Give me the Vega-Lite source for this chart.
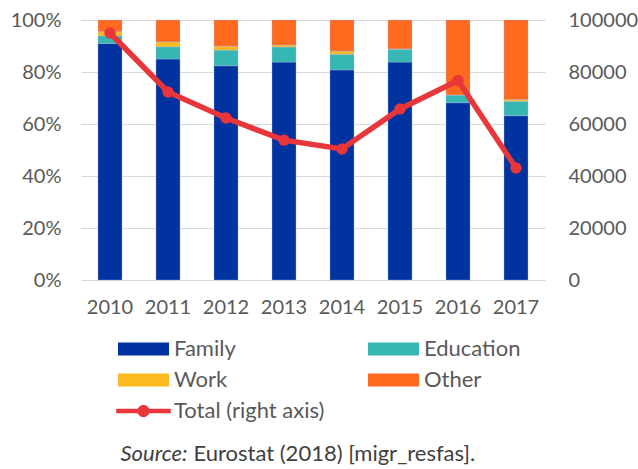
{
  "$schema": "https://vega.github.io/schema/vega-lite/v6.json",
  "autosize": "none",
  "width": 464,
  "height": 260,
  "padding": {"left": 81, "top": 20, "right": 93, "bottom": 189},
  "background": "#ffffff",
  "config": {
    "font": "Lato",
    "view": {"stroke": null},
    "axis": {"labelFont": "Lato", "labelFontSize": 20, "labelColor": "#595959", "domain": false, "ticks": false, "grid": false},
    "legend": {
      "title": null, "orient": "none", "legendX": 49.5, "legendY": 316, "columns": 2, "direction": "horizontal",
      "columnPadding": 43, "rowPadding": 7, "padding": 0,
      "labelFont": "Lato", "labelFontSize": 22, "labelColor": "#595959", "labelOffset": 17.5, "labelLimit": 300,
      "symbolType": "M-1.962,-0.5H1.962V0.5H-1.962Z", "symbolSize": 676, "symbolStrokeWidth": 0
    }
  },
  "datasets": {
    "shares": [
      {"year": "2010", "type": "Family", "value": 91.0},
      {"year": "2010", "type": "Education", "value": 2.9},
      {"year": "2010", "type": "Work", "value": 1.6},
      {"year": "2010", "type": "Other", "value": 4.5},
      {"year": "2011", "type": "Family", "value": 85.0},
      {"year": "2011", "type": "Education", "value": 4.7},
      {"year": "2011", "type": "Work", "value": 1.9},
      {"year": "2011", "type": "Other", "value": 8.4},
      {"year": "2012", "type": "Family", "value": 82.4},
      {"year": "2012", "type": "Education", "value": 6.0},
      {"year": "2012", "type": "Work", "value": 1.5},
      {"year": "2012", "type": "Other", "value": 10.1},
      {"year": "2013", "type": "Family", "value": 83.8},
      {"year": "2013", "type": "Education", "value": 5.8},
      {"year": "2013", "type": "Work", "value": 0.8},
      {"year": "2013", "type": "Other", "value": 9.6},
      {"year": "2014", "type": "Family", "value": 80.8},
      {"year": "2014", "type": "Education", "value": 6.0},
      {"year": "2014", "type": "Work", "value": 1.2},
      {"year": "2014", "type": "Other", "value": 12.0},
      {"year": "2015", "type": "Family", "value": 83.8},
      {"year": "2015", "type": "Education", "value": 4.9},
      {"year": "2015", "type": "Work", "value": 0.2},
      {"year": "2015", "type": "Other", "value": 11.1},
      {"year": "2016", "type": "Family", "value": 68.2},
      {"year": "2016", "type": "Education", "value": 2.9},
      {"year": "2016", "type": "Work", "value": 0.1},
      {"year": "2016", "type": "Other", "value": 28.8},
      {"year": "2017", "type": "Family", "value": 63.2},
      {"year": "2017", "type": "Education", "value": 5.5},
      {"year": "2017", "type": "Work", "value": 0.7},
      {"year": "2017", "type": "Other", "value": 30.6}
    ],
    "totals": [
      {"year": "2010", "type": "Total (right axis)", "total": 95000},
      {"year": "2011", "type": "Total (right axis)", "total": 72300},
      {"year": "2012", "type": "Total (right axis)", "total": 62300},
      {"year": "2013", "type": "Total (right axis)", "total": 53800},
      {"year": "2014", "type": "Total (right axis)", "total": 50400},
      {"year": "2015", "type": "Total (right axis)", "total": 65800},
      {"year": "2016", "type": "Total (right axis)", "total": 76700},
      {"year": "2017", "type": "Total (right axis)", "total": 43100}
    ]
  },
  "encoding": {
    "x": {"field": "year", "type": "ordinal", "scale": {"paddingInner": 0, "paddingOuter": 0},
      "axis": {"title": null, "labelAngle": 0, "labelPadding": 17}},
    "color": {
      "field": "type", "type": "nominal",
      "sort": ["Family", "Education", "Work", "Other", "Total (right axis)"],
      "scale": {"domain": ["Family", "Education", "Work", "Other", "Total (right axis)"],
        "range": ["#0033A0", "#36B7B4", "#FBBA1F", "#FF6A1F", "#E8363A"]},
      "legend": {
        "encode": {"symbols": {"update": {
          "shape": {"signal": "datum.value === 'Total (right axis)' ? 'M-2.1,-0.18H2.1V0.18H-2.1Z M0.47,0A0.47,0.47 0 1,1 -0.47,0A0.47,0.47 0 1,1 0.47,0Z' : 'M-1.962,-0.5H1.962V0.5H-1.962Z'"},
          "fill": {"scale": "color", "field": "value"},
          "strokeWidth": {"value": 0},
          "opacity": {"value": 1},
          "fillOpacity": {"value": 1}
        }}}
      }
    }
  },
  "layer": [
    {
      "data": {"name": "shares"},
      "transform": [{"calculate": "indexof(['Family', 'Education', 'Work', 'Other'], datum.type)", "as": "stackRank"}],
      "mark": {"type": "bar", "width": 24, "stroke": "#9fb3e0", "strokeWidth": 0.6, "strokeOpacity": 0.6},
      "encoding": {
        "y": {"field": "value", "type": "quantitative", "stack": "normalize",
          "scale": {"domain": [0, 1]},
          "axis": {"format": ".0%", "values": [0, 0.2, 0.4, 0.6, 0.8, 1], "grid": true, "gridColor": "#d9d9d9", "gridWidth": 1.2, "labelPadding": 20,
            "title": "Source:", "titleAngle": 0, "titleX": 39, "titleY": 433, "titleAlign": "left", "titleBaseline": "middle",
            "titleFont": "Lato", "titleFontSize": 22, "titleFontWeight": "normal", "titleFontStyle": "italic", "titleColor": "#404040"}},
        "order": {"field": "stackRank", "type": "quantitative", "sort": "ascending"}
      }
    },
    {
      "data": {"name": "totals"},
      "mark": {"type": "line", "strokeWidth": 5.5, "point": {"size": 130, "filled": true, "opacity": 1}},
      "encoding": {
        "y": {"field": "total", "type": "quantitative", "scale": {"domain": [0, 100000]},
          "axis": {"orient": "right", "values": [0, 20000, 40000, 60000, 80000, 100000], "format": "d", "labelPadding": 23,
            "title": "Eurostat (2018) [migr_resfas].", "titleAngle": 0, "titleX": -352, "titleY": 433, "titleAlign": "left", "titleBaseline": "middle",
            "titleFont": "Lato", "titleFontSize": 22, "titleFontWeight": "normal", "titleColor": "#404040"}}
      }
    }
  ],
  "resolve": {"scale": {"y": "independent"}}
}
